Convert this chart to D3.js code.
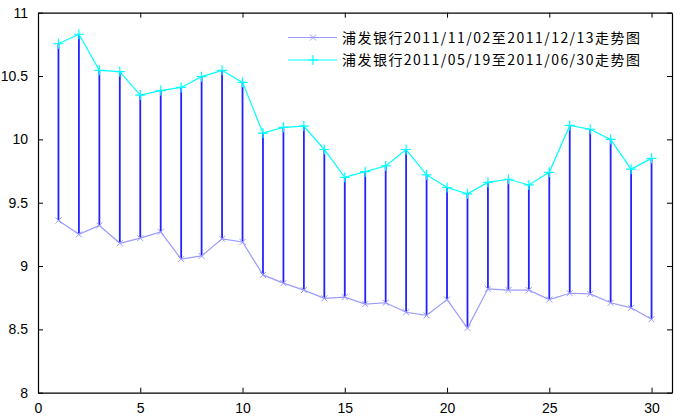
<!DOCTYPE html>
<html><head><meta charset="utf-8">
<script src="https://cdn.jsdelivr.net/npm/d3@7"></script>
<style>body{margin:0;background:#fff}svg{display:block}</style>
</head><body>
<svg id="c" width="681" height="420"></svg>
<script>
const days = d3.range(1, 31);
const seriesLow = [9.36,9.25,9.32,9.18,9.22,9.27,9.055,9.08,9.215,9.19,
  8.93,8.865,8.81,8.745,8.755,8.70,8.71,8.635,8.61,8.735,
  8.51,8.82,8.81,8.81,8.735,8.785,8.78,8.71,8.67,8.58];
const seriesHigh = [10.755,10.83,10.545,10.535,10.35,10.385,10.41,10.495,10.545,10.45,
  10.05,10.095,10.105,9.92,9.70,9.745,9.79,9.92,9.72,9.62,
  9.57,9.66,9.685,9.64,9.74,10.11,10.08,10.00,9.765,9.85];
const xTicks = [0,5,10,15,20,25,30];
const yTicks = [8,8.5,9,9.5,10,10.5,11];
const legendLabels = ["浦发银行2011/11/02至2011/12/13走势图","浦发银行2011/05/19至2011/06/30走势图"];

const svg = d3.select("#c");
const L=38, R=672, T=12.7, B=392.7;
const x = d3.scaleLinear().domain([0,31]).range([L,R]);
const y = d3.scaleLinear().domain([8,11]).range([B,T]);
const lowColor = "#9a9aff", highColor = "#00ffff", stemColor = "#2222ff";

// stems
svg.append("g").selectAll("line").data(days).join("line")
  .attr("x1",(d)=>x(d)).attr("x2",(d)=>x(d))
  .attr("y1",(d,i)=>y(seriesLow[i])).attr("y2",(d,i)=>y(seriesHigh[i]))
  .attr("stroke",stemColor).attr("stroke-width",1.8);

const line = d3.line().x(d=>x(d[0])).y(d=>y(d[1]));
const lowPts = days.map((d,i)=>[d,seriesLow[i]]);
const highPts = days.map((d,i)=>[d,seriesHigh[i]]);
svg.append("path").attr("d",line(lowPts)).attr("fill","none").attr("stroke",lowColor).attr("stroke-width",1.2);
svg.append("path").attr("d",line(highPts)).attr("fill","none").attr("stroke",highColor).attr("stroke-width",1.2);

function xMark(g,cx,cy,s,col){
  g.append("path").attr("d",`M${cx-s},${cy-s}L${cx+s},${cy+s}M${cx-s},${cy+s}L${cx+s},${cy-s}`)
   .attr("stroke",col).attr("stroke-width",1).attr("fill","none");
}
function plusMark(g,cx,cy,s,col){
  g.append("path").attr("d",`M${cx-s},${cy}L${cx+s},${cy}M${cx},${cy-s}L${cx},${cy+s}`)
   .attr("stroke",col).attr("stroke-width",1.2).attr("fill","none");
}
const mg = svg.append("g");
lowPts.forEach(p=>xMark(mg,x(p[0]),y(p[1]),3,lowColor));
highPts.forEach(p=>plusMark(mg,x(p[0]),y(p[1]),5,highColor));

// axes box
const font = "'Liberation Sans', Arial, sans-serif";
const ax = svg.append("g");
ax.append("g").attr("transform",`translate(0,${B})`)
  .call(d3.axisBottom(x).tickValues(xTicks).tickSizeInner(-5).tickSizeOuter(0).tickPadding(10).tickFormat(d3.format("d")));
ax.append("g").attr("transform",`translate(0,${T})`)
  .call(d3.axisTop(x).tickValues(xTicks).tickSizeInner(-5).tickSizeOuter(0).tickFormat(""));
ax.append("g").attr("transform",`translate(${L},0)`)
  .call(d3.axisLeft(y).tickValues(yTicks).tickSizeInner(-5).tickSizeOuter(0).tickPadding(10).tickFormat(d=>String(d)));
ax.append("g").attr("transform",`translate(${R},0)`)
  .call(d3.axisRight(y).tickValues(yTicks).tickSizeInner(-5).tickSizeOuter(0).tickFormat(""));
ax.selectAll(".domain").attr("stroke","#000").attr("stroke-width",1.2);
ax.selectAll(".tick line").attr("stroke","#000");
ax.selectAll("text").attr("font-family",font).attr("font-size",14).attr("fill","#000");

// legend
const lg = svg.append("g");
[0,1].forEach(i=>{
  const ly = i===0?37.5:60;
  const col = i===0?lowColor:highColor;
  lg.append("line").attr("x1",288).attr("x2",337).attr("y1",ly).attr("y2",ly).attr("stroke",col).attr("stroke-width",1.2);
  if(i===0) xMark(lg,313,ly,3,col); else plusMark(lg,313,ly,5,col);
  lg.append("text").attr("x",342).attr("y",ly+5).text(legendLabels[i])
    .attr("font-family","'Noto Sans CJK SC', sans-serif").attr("font-size",14)
    .attr("textLength",298).attr("lengthAdjust","spacing").attr("fill","#000");
});
</script>
</body></html>
